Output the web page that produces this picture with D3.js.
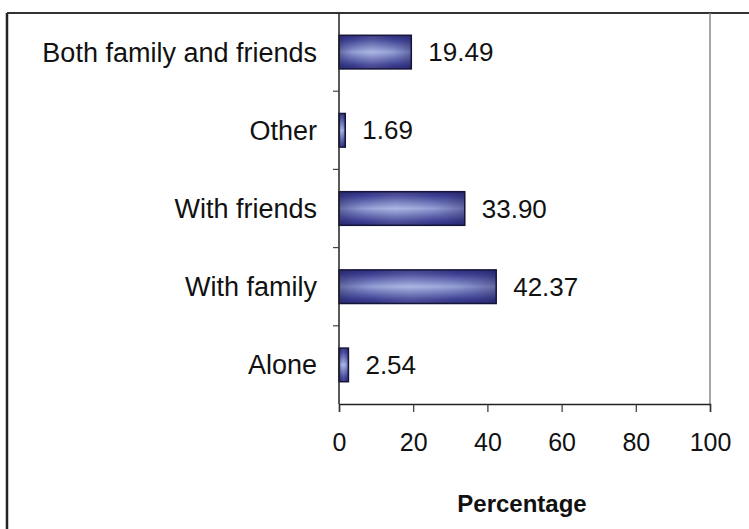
<!DOCTYPE html>
<html>
<head>
<meta charset="utf-8">
<script src="https://cdn.jsdelivr.net/npm/d3@7"></script>
<style>
  html, body { margin: 0; padding: 0; background: #ffffff; }
  svg { display: block; font-family: "Liberation Sans", Arial, sans-serif; }
</style>
</head>
<body>
<svg id="chart" width="749" height="529"></svg>
<script>
// Living arrangement shares (percent), listed top to bottom
const categories = ["Both family and friends", "Other", "With friends", "With family", "Alone"];
const values = [19.49, 1.69, 33.90, 42.37, 2.54];
const valueLabels = ["19.49", "1.69", "33.90", "42.37", "2.54"];
const xTicks = [0, 20, 40, 60, 80, 100];
const xTitle = "Percentage";

const svg = d3.select("#chart");
const W = 749, H = 529;
const plot = { left: 339, right: 710, top: 13, bottom: 404 };

const x = d3.scaleLinear().domain([0, 100]).range([plot.left, plot.right]);
const y = d3.scaleBand().domain(categories).range([plot.top, plot.bottom]).paddingInner(0.57).paddingOuter(0.285);

// Bar shading: dark rim fading smoothly to a pale centre
const defs = svg.append("defs");
const gv = defs.append("linearGradient").attr("id", "barV").attr("x1", 0).attr("y1", 0).attr("x2", 0).attr("y2", 1);
[["0%", "#2c2c74"], ["12%", "#3c3e92"], ["50%", "#a2afe0"], ["88%", "#3c3e92"], ["100%", "#2c2c74"]]
  .forEach(([o, c]) => gv.append("stop").attr("offset", o).attr("stop-color", c));
const gh = defs.append("linearGradient").attr("id", "barH").attr("x1", 0).attr("y1", 0).attr("x2", 1).attr("y2", 0);
[["0%", "#22225e", 0.5], ["20%", "#3a3c90", 0.15], ["45%", "#ffffff", 0.1], ["75%", "#3a3c90", 0.15], ["100%", "#22225e", 0.5]]
  .forEach(([o, c, a]) => gh.append("stop").attr("offset", o).attr("stop-color", c).attr("stop-opacity", a));

// Outer frame (left and top edges)
svg.append("line").attr("x1", 7).attr("x2", 7).attr("y1", 13).attr("y2", H)
  .attr("stroke", "#222").attr("stroke-width", 2.5);
svg.append("line").attr("x1", 7).attr("x2", W).attr("y1", 13).attr("y2", 13)
  .attr("stroke", "#333").attr("stroke-width", 2);

// Plot area right edge
svg.append("line").attr("x1", plot.right).attr("x2", plot.right).attr("y1", plot.top).attr("y2", plot.bottom)
  .attr("stroke", "#8a8a8a").attr("stroke-width", 1.5);

// Bars
const bars = svg.append("g");
categories.forEach((c, i) => {
  const bx = x(0), by = y(c), bw = x(values[i]) - x(0), bh = y.bandwidth();
  bars.append("rect").attr("x", bx).attr("y", by).attr("width", bw).attr("height", bh)
    .attr("fill", "url(#barV)");
  bars.append("rect").attr("x", bx).attr("y", by).attr("width", bw).attr("height", bh)
    .attr("fill", "url(#barH)")
    .attr("stroke", "#15153a").attr("stroke-width", 1.5);
});

// Value labels
svg.append("g").selectAll("text").data(categories).join("text")
  .attr("x", (d, i) => x(values[i]) + 17)
  .attr("y", d => y(d) + y.bandwidth() / 2)
  .attr("dy", "0.35em")
  .attr("font-size", 26)
  .attr("fill", "#111")
  .text((d, i) => valueLabels[i]);

// Y axis with ticks at the band boundaries
const yAxisG = svg.append("g");
yAxisG.append("line").attr("x1", plot.left).attr("x2", plot.left).attr("y1", plot.top).attr("y2", plot.bottom)
  .attr("stroke", "#222").attr("stroke-width", 1.5);
d3.range(1, categories.length).forEach(k => {
  const ty = plot.top + k * (plot.bottom - plot.top) / categories.length;
  yAxisG.append("line").attr("x1", plot.left - 6).attr("x2", plot.left).attr("y1", ty).attr("y2", ty)
    .attr("stroke", "#444").attr("stroke-width", 1.2);
});
yAxisG.selectAll("text.cat").data(categories).join("text")
  .attr("class", "cat")
  .attr("x", plot.left - 22)
  .attr("y", d => y(d) + y.bandwidth() / 2)
  .attr("dy", "0.35em")
  .attr("text-anchor", "end")
  .attr("font-size", 27)
  .attr("fill", "#111")
  .text(d => d);

// X axis
const xAxis = d3.axisBottom(x).tickValues(xTicks).tickSize(8).tickPadding(21).tickFormat(d3.format("d"));
const xg = svg.append("g").attr("transform", `translate(0,${plot.bottom})`).call(xAxis);
xg.select(".domain").attr("stroke", "#222").attr("stroke-width", 1.5);
xg.selectAll(".tick line").attr("stroke", "#333").attr("stroke-width", 1.2);
xg.selectAll(".tick text").attr("font-size", 25).attr("fill", "#111")
  .attr("font-family", "'Liberation Sans', Arial, sans-serif");

// Axis title
svg.append("text")
  .attr("x", 522)
  .attr("y", 512)
  .attr("text-anchor", "middle")
  .attr("font-size", 24)
  .attr("font-weight", "bold")
  .attr("fill", "#111")
  .text(xTitle);
</script>
</body>
</html>
